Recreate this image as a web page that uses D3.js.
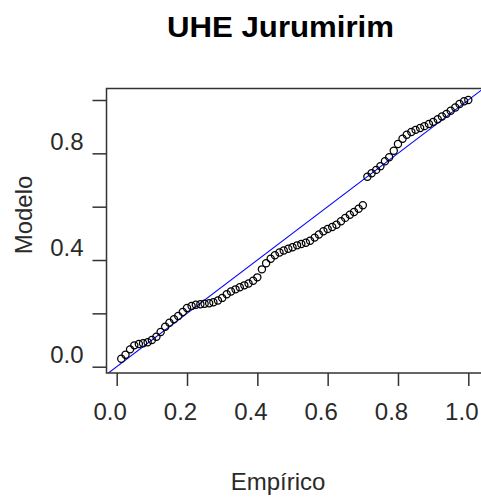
<!DOCTYPE html>
<html lang="en">
	<head>
		<meta charset="utf-8">
		<script type="text/javascript" src="https://d3js.org/d3.v7.min.js"></script>
		<style type="text/css">
			body { margin: 0; background: #fff; }
			text { font-family: "Liberation Sans", Arial, sans-serif; fill: #2a2a2a; }
		</style>
	</head>
	<body>
		<script type="text/javascript">

			//Width and height
			var w = 481;
			var h = 498;

			//Empirical probabilities (x) and model probabilities (y)
			var empirico = [0.013,0.025,0.038,0.05,0.063,0.075,0.088,0.1,0.113,0.125,
				0.138,0.15,0.163,0.175,0.188,0.2,0.213,0.225,0.238,0.25,
				0.263,0.275,0.288,0.3,0.313,0.325,0.338,0.35,0.363,0.375,
				0.388,0.4,0.413,0.425,0.438,0.45,0.463,0.475,0.488,0.5,
				0.513,0.525,0.538,0.55,0.563,0.575,0.588,0.6,0.613,0.625,
				0.638,0.65,0.663,0.675,0.688,0.7,0.713,0.725,0.738,0.75,
				0.763,0.775,0.788,0.8,0.813,0.825,0.838,0.85,0.863,0.875,
				0.888,0.9,0.913,0.925,0.938,0.95,0.963,0.975,0.988,1.0];

			var modelo = [0.030,0.045,0.065,0.080,0.085,0.088,0.092,0.100,0.112,0.130,
				0.150,0.165,0.178,0.190,0.205,0.220,0.228,0.232,0.234,0.236,
				0.238,0.242,0.248,0.258,0.272,0.282,0.290,0.298,0.305,0.312,
				0.322,0.335,0.365,0.388,0.405,0.418,0.428,0.436,0.442,0.448,
				0.455,0.460,0.465,0.472,0.484,0.496,0.508,0.516,0.524,0.532,
				0.545,0.558,0.570,0.580,0.592,0.605,0.712,0.725,0.738,0.752,
				0.770,0.785,0.810,0.835,0.855,0.870,0.880,0.888,0.895,0.902,
				0.910,0.918,0.928,0.938,0.948,0.960,0.972,0.985,0.995,1.000];

			var xTicks = [0, 0.2, 0.4, 0.6, 0.8, 1.0];
			var yTicks = [0, 0.2, 0.4, 0.6, 0.8, 1.0];
			var yLabelled = [0, 0.4, 0.8];

			var dataset = empirico.map(function(d, i) { return {x: d, y: modelo[i]}; });

			//Plot box
			var box = {left: 106.5, top: 88.5, right: 482.5, bottom: 373};

			//Create scale functions
			var xScale = d3.scaleLinear().domain([0, 1]).range([116.7, 468.3]);
			var yScale = d3.scaleLinear().domain([0, 1]).range([366.7, 100]);

			//Create SVG element
			var svg = d3.select("body")
						.append("svg")
						.attr("width", w)
						.attr("height", h);

			svg.append("clipPath")
				.attr("id", "plotclip")
				.append("rect")
				.attr("x", box.left)
				.attr("y", box.top)
				.attr("width", box.right - box.left)
				.attr("height", box.bottom - box.top);

			//Title
			svg.append("text")
				.attr("x", 280.5)
				.attr("y", 37)
				.attr("text-anchor", "middle")
				.attr("font-size", "29px")
				.attr("font-weight", "bold")
				.attr("textLength", 227)
				.attr("lengthAdjust", "spacingAndGlyphs")
				.style("fill", "#000")
				.text("UHE Jurumirim");

			//Reference line y = x
			svg.append("line")
				.attr("clip-path", "url(#plotclip)")
				.attr("x1", xScale(-0.1))
				.attr("y1", yScale(-0.1))
				.attr("x2", xScale(1.1))
				.attr("y2", yScale(1.1))
				.attr("stroke", "#0000ff")
				.attr("stroke-width", 1.1);

			//Points
			svg.append("g")
				.attr("clip-path", "url(#plotclip)")
				.selectAll("circle")
				.data(dataset)
				.enter()
				.append("circle")
				.attr("cx", function(d) { return xScale(d.x); })
				.attr("cy", function(d) { return yScale(d.y); })
				.attr("r", 3.6)
				.attr("fill", "none")
				.attr("stroke", "#000")
				.attr("stroke-width", 1.25);

			//Box
			svg.append("rect")
				.attr("x", box.left)
				.attr("y", box.top)
				.attr("width", box.right - box.left)
				.attr("height", box.bottom - box.top)
				.attr("fill", "none")
				.attr("stroke", "#333")
				.attr("stroke-width", 1.5);

			//X axis
			var xAxis = d3.axisBottom(xScale)
				.tickValues(xTicks)
				.tickSize(13)
				.tickPadding(17)
				.tickFormat(d3.format(".1f"));

			var gx = svg.append("g")
				.attr("transform", "translate(0," + box.bottom + ")")
				.call(xAxis);
			gx.select(".domain").remove();
			gx.selectAll(".tick line").attr("stroke", "#333").attr("stroke-width", 1.5);
			gx.selectAll(".tick text")
				.attr("font-size", "24px")
				.attr("font-family", null)
				.attr("dx", -7);

			//Y axis
			var yAxis = d3.axisLeft(yScale)
				.tickValues(yTicks)
				.tickSize(14)
				.tickPadding(9)
				.tickFormat(function(d) {
					return yLabelled.indexOf(d) >= 0 ? d3.format(".1f")(d) : "";
				});

			var gy = svg.append("g")
				.attr("transform", "translate(" + box.left + ",0)")
				.call(yAxis);
			gy.select(".domain").remove();
			gy.selectAll(".tick line").attr("stroke", "#333").attr("stroke-width", 1.5);
			gy.selectAll(".tick text")
				.attr("font-size", "24px")
				.attr("font-family", null)
				.attr("y", -12);

			//Axis titles
			svg.append("text")
				.attr("x", 278)
				.attr("y", 490)
				.attr("text-anchor", "middle")
				.attr("font-size", "24px")
				.text("Empírico");

			svg.append("text")
				.attr("transform", "translate(32,215) rotate(-90)")
				.attr("text-anchor", "middle")
				.attr("font-size", "24px")
				.text("Modelo");

		</script>
	</body>
</html>
